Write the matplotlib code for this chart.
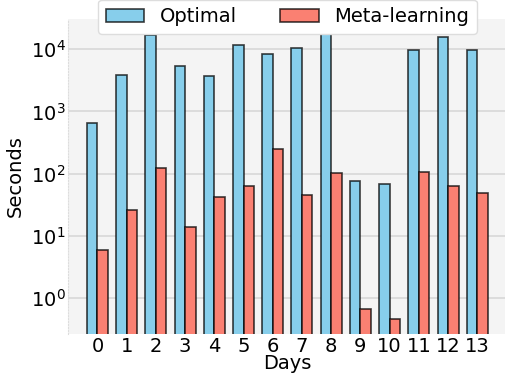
import matplotlib
matplotlib.use("Agg")
import matplotlib.pyplot as plt
import numpy as np

days = list(range(14))
optimal = [660, 3860, 17100, 5340, 3770, 11700, 8500, 10400, 17800, 76, 68, 9750, 15700, 9640]
meta = [5.9, 25.8, 125, 13.8, 41.8, 64, 245, 46, 101, 0.67, 0.46, 108, 64, 49.5]

fig = plt.figure(figsize=(5.05, 3.77), dpi=100)
ax = fig.add_axes([0.135, 0.114, 0.868, 0.836])
ax.set_facecolor("#f4f4f4")

x = np.arange(len(days))
w = 0.36
ax.bar(x - w / 2, optimal, w, color="skyblue", edgecolor="black", linewidth=1.2, label="Optimal", zorder=3)
ax.bar(x + w / 2, meta, w, color="salmon", edgecolor="black", linewidth=1.2, label="Meta-learning", zorder=3)
for p in ax.patches:
    p.set_edgecolor((0, 0, 0, 0.75))

ax.set_yscale("log")
ax.set_ylim(0.267, 30600)
ax.set_xlim(-1, 14)
ax.set_xticks(x)
ax.set_xticklabels([str(d) for d in days])
ax.tick_params(axis="both", which="both", length=0, labelsize=14, pad=2)
ax.minorticks_off()
ax.grid(axis="y", color="#d8d8d8", linewidth=1.2, zorder=0)

for s in ["top", "right", "bottom"]:
    ax.spines[s].set_visible(False)
ax.spines["left"].set_color("#dddddd")
ax.spines["left"].set_linestyle(":")
ax.spines["left"].set_linewidth(0.8)

ax.set_xlabel("Days", fontsize=14, labelpad=-1)
ax.set_ylabel("Seconds", fontsize=14, labelpad=4)

ax.legend(loc="upper center", bbox_to_anchor=(0.5, 1.092), ncol=2, fontsize=14,
          columnspacing=2.2, handlelength=2.0, framealpha=1, edgecolor="#dddddd")

fig.savefig("out.png", dpi=100)
